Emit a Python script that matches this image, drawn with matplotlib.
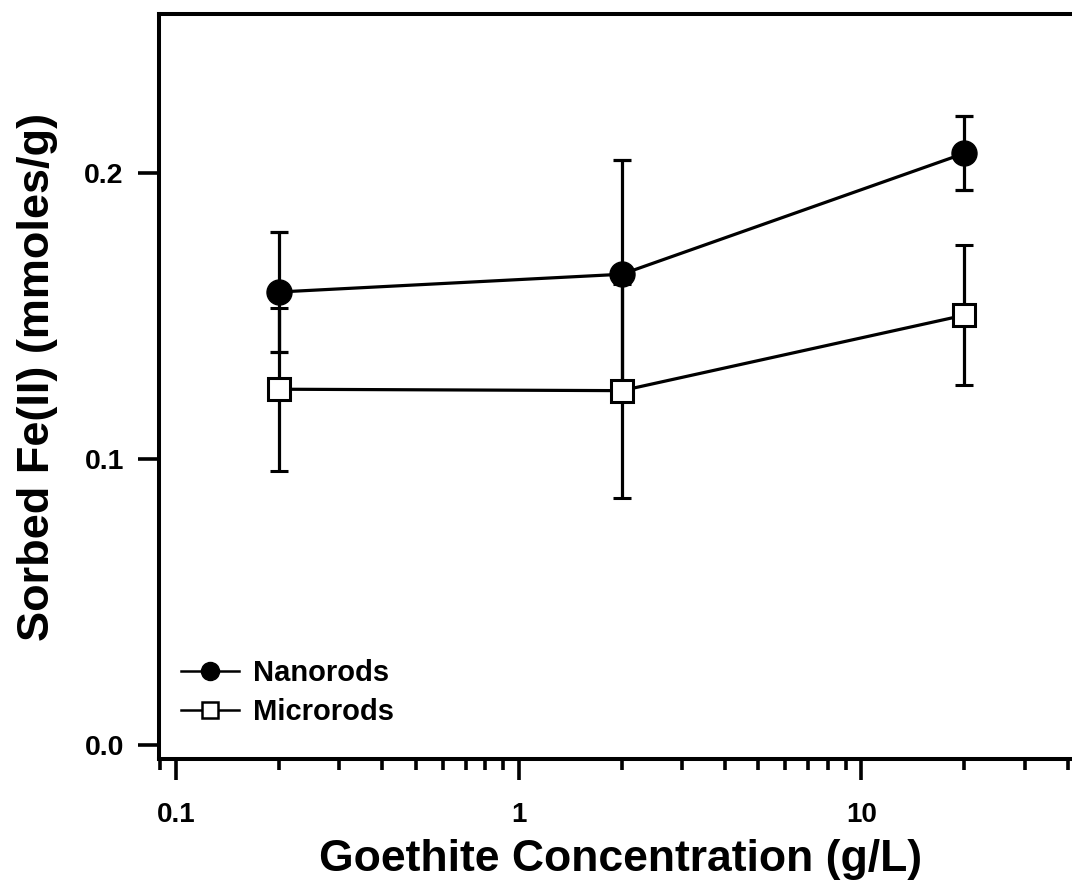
import matplotlib
matplotlib.use('Agg')
import matplotlib.pyplot as plt
from matplotlib.lines import Line2D
from matplotlib.ticker import LogLocator, FixedLocator, FuncFormatter, NullFormatter

plt.rcParams['font.family'] = ['Liberation Sans', 'DejaVu Sans']
plt.rcParams['font.weight'] = 'bold'

# goethite concentration (g/L)
conc = [0.2, 2, 20]

nano_y = [0.1584, 0.1646, 0.2069]
nano_err = [0.0210, 0.0400, 0.0130]

micro_y = [0.1244, 0.1239, 0.1503]
micro_err = [0.0285, 0.0374, 0.0246]

fig = plt.figure(figsize=(10.72, 8.82), dpi=100)
ax = fig.add_axes([158.5 / 1072, 1 - 759 / 882, 1 - 158.5 / 1072, (759 - 14) / 882])

ax.errorbar(conc, nano_y, yerr=nano_err, color='black', lw=2.3, elinewidth=2.3,
            capsize=6.8, capthick=2.3, marker='o', ms=18, mfc='black', mec='black',
            zorder=3)
ax.errorbar(conc, micro_y, yerr=micro_err, color='black', lw=2.3, elinewidth=2.3,
            capsize=6.8, capthick=2.3, marker='s', ms=15.5, mfc='white', mec='black',
            mew=2.2, zorder=4)

ax.set_xscale('log')
ax.set_xlim(0.0889, 41.2)
ax.set_ylim(-0.0049, 0.2556)

ax.xaxis.set_major_locator(FixedLocator([0.1, 1, 10]))
ax.xaxis.set_major_formatter(FuncFormatter(lambda v, p: '%g' % v))
ax.xaxis.set_minor_locator(LogLocator(base=10, subs=range(2, 10)))
ax.xaxis.set_minor_formatter(NullFormatter())
ax.set_yticks([0.0, 0.1, 0.2])
ax.set_yticklabels(['0.0', '0.1', '0.2'])

for s in ['left', 'top', 'bottom']:
    ax.spines[s].set_linewidth(2.9)
ax.spines['right'].set_visible(False)

ax.tick_params(axis='both', which='major', direction='out', width=2.6, length=15,
               labelsize=20, pad=16)
ax.tick_params(axis='x', which='minor', direction='out', width=2.6, length=8)
ax.tick_params(axis='y', which='major', length=15, pad=10, labelsize=20.5)

ax.set_xlabel('Goethite Concentration (g/L)', fontsize=32, fontweight='bold')
ax.set_ylabel('Sorbed Fe(II) (mmoles/g)', fontsize=32.5, fontweight='bold')
ax.xaxis.set_label_coords(0.506, -0.108)
ax.yaxis.set_label_coords(-0.110, 0.513)

handles = [
    Line2D([], [], color='black', lw=1.8, marker='o', ms=13, mfc='black', mec='black'),
    Line2D([], [], color='black', lw=1.8, marker='s', ms=12, mfc='white', mec='black', mew=1.8),
]
ax.legend(handles, ['Nanorods', 'Microrods'], loc='lower left',
          bbox_to_anchor=(-0.004, 0.009), frameon=False, fontsize=21,
          handlelength=2.0, handletextpad=0.45, labelspacing=0.38, borderpad=0.4)

fig.savefig('out.png', dpi=100)
